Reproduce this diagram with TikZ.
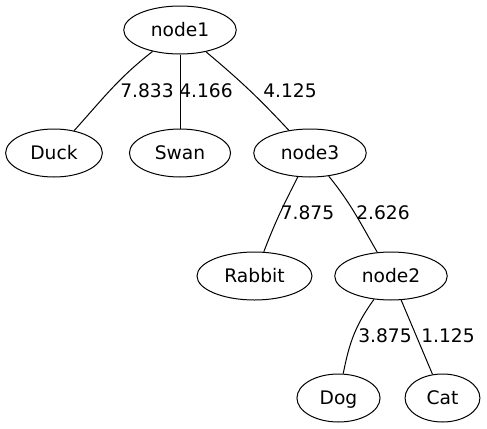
\documentclass[tikz,border=0pt]{standalone}
\usepackage{fontspec}
\setmainfont{DejaVu Sans}
\usetikzlibrary{shapes.geometric}
\begin{document}
\begin{tikzpicture}[x=0.75pt, y=-0.75pt, line width=0.75pt, font=\fontsize{14}{17}\selectfont,
        main/.style = {draw, ellipse, minimum width=54pt, minimum height=36pt, inner xsep=7.92pt, inner ysep=2pt, text height=10pt, text depth=0.2pt},
        wt/.style = {inner sep=0pt}]
            \useasboundingbox (0,0) rectangle (487,429);
            \node[main] (1) at (180,30) {node1};
            \node[main] (duck) at (54,153) {Duck};
            \node[main] (swan) at (180,153) {Swan};
            \node[main] (3) at (310,153) {node3};
            \node[main] (rabbit) at (254.5,276) {Rabbit};
            \node[main] (2) at (391,276) {node2};
            \node[main] (dog) at (338.5,398) {Dog};
            \node[main] (cat) at (442.5,398) {Cat};
            \draw (1) to[out=218, in=48] (duck);
            \draw (1) -- (swan);
            \draw (1) to[out=-40, in=133] (3);
            \draw (3) to[out=243, in=69] (rabbit);
            \draw (3) to[out=-51, in=120] (2);
            \draw (2) to[out=234, in=79] (dog);
            \draw (2) -- (cat);
            \node[wt] (w1) at (147,90.5) {7.833};
            \node[wt] (w2) at (206,90.5) {4.166};
            \node[wt] (w3) at (290,90.5) {4.125};
            \node[wt] (w4) at (307.5,212.5) {7.875};
            \node[wt] (w5) at (383,212.5) {2.626};
            \node[wt] (w6) at (385,335.5) {3.875};
            \node[wt] (w7) at (448,335.5) {1.125};
        \end{tikzpicture}
\end{document}
